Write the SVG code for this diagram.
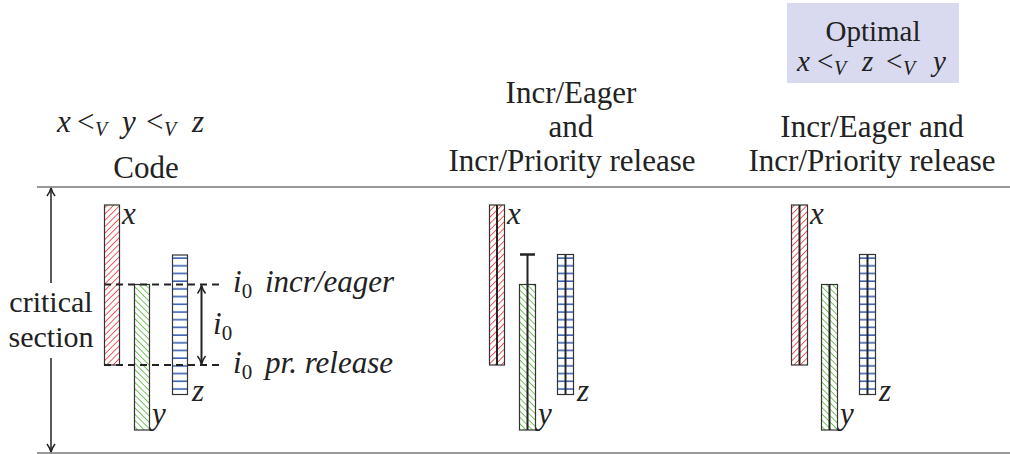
<svg xmlns="http://www.w3.org/2000/svg" width="1010" height="454" viewBox="0 0 1010 454">
<style>
text{font-family:'Liberation Serif','DejaVu Serif',serif;font-size:31px;fill:#222}
.m{font-style:italic}
.u{font-style:normal}
.s{font-size:21px;font-style:normal}
.sv{font-size:20px;font-style:italic}
.c{text-anchor:middle}
.o{font-size:29px}
.cs{font-size:30px}
.bar{stroke:#333;stroke-width:1.2}
.rule{stroke:#333;stroke-width:1.2}
.dash{stroke:#222;stroke-width:2;stroke-dasharray:7 5}
.mid{stroke:#222;stroke-width:2}
</style>
<defs>
<pattern id="red" width="4.5" height="4.5" patternUnits="userSpaceOnUse" patternTransform="rotate(45)">
<rect width="4.5" height="4.5" fill="#fff"/><line x1="0" y1="0" x2="0" y2="4.5" stroke="#e8151b" stroke-width="1.4"/>
</pattern>
<pattern id="green" width="4.5" height="4.5" patternUnits="userSpaceOnUse" patternTransform="rotate(-45)">
<rect width="4.5" height="4.5" fill="#fff"/><line x1="0" y1="0" x2="0" y2="4.5" stroke="#3aae1a" stroke-width="1.4"/>
</pattern>
<pattern id="blue" width="8" height="7.7" patternUnits="userSpaceOnUse">
<rect width="8" height="7.7" fill="#fff"/><line x1="0" y1="4" x2="8" y2="4" stroke="#1f4aa8" stroke-width="1.4"/>
</pattern>
<marker id="ah" viewBox="0 0 10 10" refX="9" refY="5" markerWidth="10" markerHeight="10" markerUnits="userSpaceOnUse" orient="auto-start-reverse">
<path d="M1,1 Q5,4 9,5 Q5,6 1,9" fill="none" stroke="#222" stroke-width="1.5"/>
</marker>
</defs>

<g id="rules">
<line class="rule" x1="37" y1="187" x2="1010" y2="187"/>
<line class="rule" x1="37" y1="453" x2="1010" y2="453"/>
</g>

<g id="headers">
<text y="132" class="m"><tspan x="57">x</tspan><tspan x="77" class="u">&lt;</tspan><tspan x="95" y="136" class="sv">V</tspan><tspan x="122" y="132">y</tspan><tspan x="146" class="u">&lt;</tspan><tspan x="164" y="136" class="sv">V</tspan><tspan x="192" y="132">z</tspan></text>
<text x="146" y="178" class="c">Code</text>
<text x="571" y="103" class="c">Incr/Eager</text>
<text x="571" y="137" class="c">and</text>
<text x="572" y="171" class="c">Incr/Priority release</text>
<text x="872" y="137" class="c">Incr/Eager and</text>
<text x="872" y="171" class="c">Incr/Priority release</text>
</g>

<g id="optimal">
<rect x="787" y="3" width="172" height="80" fill="#d9d9ef"/>
<text x="873" y="41" class="c o">Optimal</text>
<text y="71" class="m o"><tspan x="797">x</tspan><tspan x="817" class="u">&lt;</tspan><tspan x="834" y="75" class="sv">V</tspan><tspan x="862" y="71">z</tspan><tspan x="886" class="u">&lt;</tspan><tspan x="903" y="75" class="sv">V</tspan><tspan x="933" y="71">y</tspan></text>
</g>

<g id="critical">
<text x="51" y="312" class="c cs">critical</text>
<text x="51" y="347" class="c cs">section</text>
</g>

<g id="code-x"><rect class="bar" x="104.5" y="205" width="15" height="160" fill="url(#red)"/><text x="122" y="224" class="m">x</text></g>
<g id="code-y"><rect class="bar" x="134.5" y="284.5" width="15" height="145.5" fill="url(#green)"/><text x="152" y="424" class="m">y</text></g>
<g id="code-z"><rect class="bar" x="172.5" y="255" width="15" height="139.5" fill="url(#blue)"/><text x="192" y="401" class="m">z</text></g>

<g id="labels-i0">
<text x="233" y="292" class="m">i<tspan class="s" dy="6">0</tspan><tspan dy="-6" x="265">incr/eager</tspan></text>
<text x="233" y="373" class="m">i<tspan class="s" dy="6">0</tspan><tspan dy="-6" x="265">pr. release</tspan></text>
<text x="213" y="334" class="m">i<tspan class="s" dy="6">0</tspan></text>
</g>

<g id="mid-x"><rect class="bar" x="489.5" y="205" width="15" height="160" fill="url(#red)"/><line class="mid" x1="497" y1="205" x2="497" y2="365"/><text x="507" y="224" class="m">x</text></g>
<g id="mid-y"><rect class="bar" x="519.5" y="284.5" width="16" height="145.5" fill="url(#green)"/><line class="mid" x1="527.5" y1="284.5" x2="527.5" y2="430"/><text x="538" y="424" class="m">y</text></g>
<g id="mid-z"><rect class="bar" x="557.5" y="254.5" width="16" height="140" fill="url(#blue)"/><line class="mid" x1="565.5" y1="254.5" x2="565.5" y2="394.5"/><text x="577" y="401" class="m">z</text></g>

<g id="opt-x"><rect class="bar" x="791.5" y="205" width="16" height="160" fill="url(#red)"/><line class="mid" x1="799.5" y1="205" x2="799.5" y2="365"/><text x="810" y="224" class="m">x</text></g>
<g id="opt-y"><rect class="bar" x="821.5" y="284.5" width="16" height="145.5" fill="url(#green)"/><line class="mid" x1="829.5" y1="284.5" x2="829.5" y2="430"/><text x="840" y="424" class="m">y</text></g>
<g id="opt-z"><rect class="bar" x="859.5" y="254.5" width="16" height="140" fill="url(#blue)"/><line class="mid" x1="867.5" y1="254.5" x2="867.5" y2="394.5"/><text x="879" y="401" class="m">z</text></g>

<g id="connectors">
<line x1="51" y1="188" x2="51" y2="283" stroke="#222" stroke-width="1.5" marker-start="url(#ah)"/>
<line x1="51" y1="358" x2="51" y2="452" stroke="#222" stroke-width="1.5" marker-end="url(#ah)"/>
<line class="dash" x1="104" y1="284.5" x2="224" y2="284.5"/>
<line class="dash" x1="104" y1="365" x2="224" y2="365"/>
<line x1="201.5" y1="285.5" x2="201.5" y2="364" stroke="#222" stroke-width="2" marker-start="url(#ah)" marker-end="url(#ah)"/>
<line x1="527.5" y1="254.5" x2="527.5" y2="284.5" stroke="#222" stroke-width="2"/>
<line x1="520" y1="254.5" x2="535" y2="254.5" stroke="#222" stroke-width="2.5"/>
</g>
</svg>
